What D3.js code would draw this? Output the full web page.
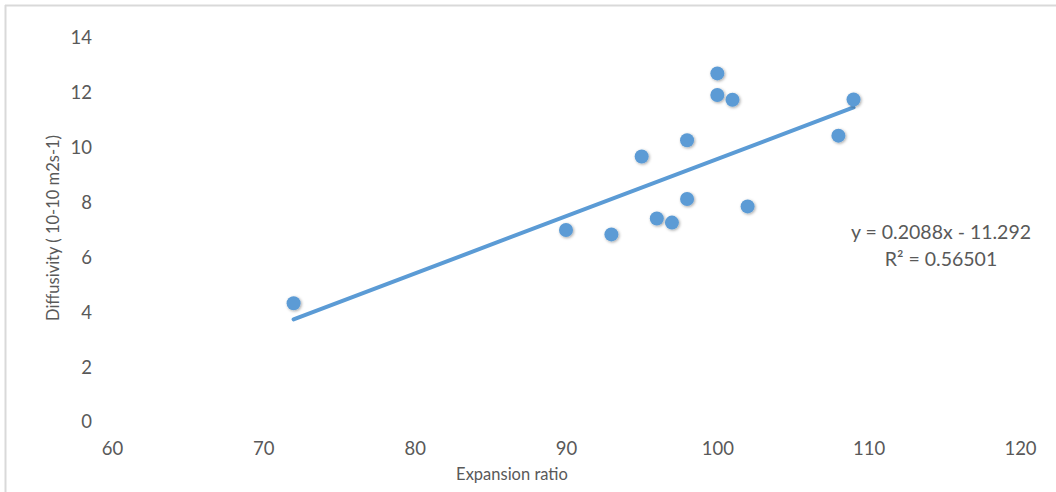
<!DOCTYPE html>
<html>
<head>
<meta charset="utf-8">
<script src="https://cdn.jsdelivr.net/npm/d3@7"></script>
<style>
  body { margin: 0; background: #fff; }
  text { font-family: Lato, "Open Sans", "Liberation Sans", sans-serif; }
</style>
</head>
<body>
<div id="chart"></div>
<script>
// data
const expansionRatio = [72, 90, 93, 95, 96, 97, 98, 98, 100, 100, 101, 102, 108, 109];
const diffusivity = [4.33, 7.0, 6.84, 9.68, 7.42, 7.27, 8.13, 10.27, 12.71, 11.92, 11.75, 7.86, 10.44, 11.76];
const xTicks = [60, 70, 80, 90, 100, 110, 120];
const yTicks = [0, 2, 4, 6, 8, 10, 12, 14];
const trendSlope = 0.2088;
const trendIntercept = -11.292;
const trendLabel = ["y = 0.2088x - 11.292", "R² = 0.56501"];

const width = 1056, height = 492;
const margin = {top: 38, right: 36, bottom: 70, left: 112};

const svg = d3.select("#chart")
    .append("svg")
    .attr("width", width)
    .attr("height", height);

const defs = svg.append("defs");
const shadow = defs.append("filter").attr("id", "shadow")
    .attr("x", "-50%").attr("y", "-50%").attr("width", "200%").attr("height", "200%");
shadow.append("feDropShadow")
    .attr("dx", 1).attr("dy", 1).attr("stdDeviation", 1.5)
    .attr("flood-color", "#000").attr("flood-opacity", 0.35);

// frame (only top and left show in the picture)
svg.append("line").attr("x1", 5).attr("x2", width).attr("y1", 5.5).attr("y2", 5.5)
    .attr("stroke", "#d9d9d9").attr("stroke-width", 2);
svg.append("line").attr("x1", 5.5).attr("x2", 5.5).attr("y1", 5).attr("y2", height)
    .attr("stroke", "#d9d9d9").attr("stroke-width", 2);

const x = d3.scaleLinear().domain([60, 120]).range([margin.left, width - margin.right]);
const y = d3.scaleLinear().domain([0, 14]).range([height - margin.bottom, margin.top]);

// axes without lines, labels only
const xAxis = svg.append("g")
    .attr("transform", `translate(0,${height - margin.bottom})`)
    .call(d3.axisBottom(x).tickValues(xTicks).tickSize(0).tickPadding(20));
xAxis.select(".domain").remove();
xAxis.selectAll("text").attr("font-size", 18.5).attr("fill", "#595959")
    .style("font-family", "Lato, 'Open Sans', sans-serif");

const yAxis = svg.append("g")
    .attr("transform", `translate(${margin.left - 20},0)`)
    .call(d3.axisLeft(y).tickValues(yTicks).tickSize(0).tickPadding(0));
yAxis.select(".domain").remove();
yAxis.selectAll("text").attr("font-size", 18.5).attr("fill", "#595959")
    .style("font-family", "Lato, 'Open Sans', sans-serif");

// axis titles
svg.append("text")
    .attr("x", 512)
    .attr("y", height - 12)
    .attr("text-anchor", "middle")
    .attr("font-size", 16.5)
    .attr("fill", "#595959")
    .text("Expansion ratio");

svg.append("text")
    .attr("transform", "rotate(-90)")
    .attr("x", -(margin.top + (height - margin.bottom - margin.top) / 2) + 2)
    .attr("y", 59)
    .attr("text-anchor", "middle")
    .attr("font-size", 16.5)
    .attr("fill", "#595959")
    .text("Diffusivity ( 10-10 m2s-1)");

// linear trendline across the data range
const xMin = d3.min(expansionRatio), xMax = d3.max(expansionRatio);
const trend = [xMin, xMax].map(v => ({x: v, y: trendSlope * v + trendIntercept}));
svg.append("path")
    .datum(trend)
    .attr("fill", "none")
    .attr("stroke", "#5b9bd5")
    .attr("stroke-width", 4)
    .attr("stroke-linecap", "round")
    .attr("d", d3.line().x(d => x(d.x)).y(d => y(d.y)));

// points
svg.append("g")
    .selectAll("circle")
    .data(expansionRatio.map((v, i) => ({x: v, y: diffusivity[i]})))
    .join("circle")
    .attr("cx", d => x(d.x))
    .attr("cy", d => y(d.y))
    .attr("r", 7)
    .attr("fill", "#5b9bd5")
    .attr("filter", "url(#shadow)");

// equation label
const eq = svg.append("text")
    .attr("text-anchor", "middle")
    .attr("font-size", 19.5)
    .attr("fill", "#595959");
eq.selectAll("tspan")
    .data(trendLabel)
    .join("tspan")
    .attr("x", 941)
    .attr("y", (d, i) => 239 + i * 27)
    .text(d => d);
</script>
</body>
</html>
